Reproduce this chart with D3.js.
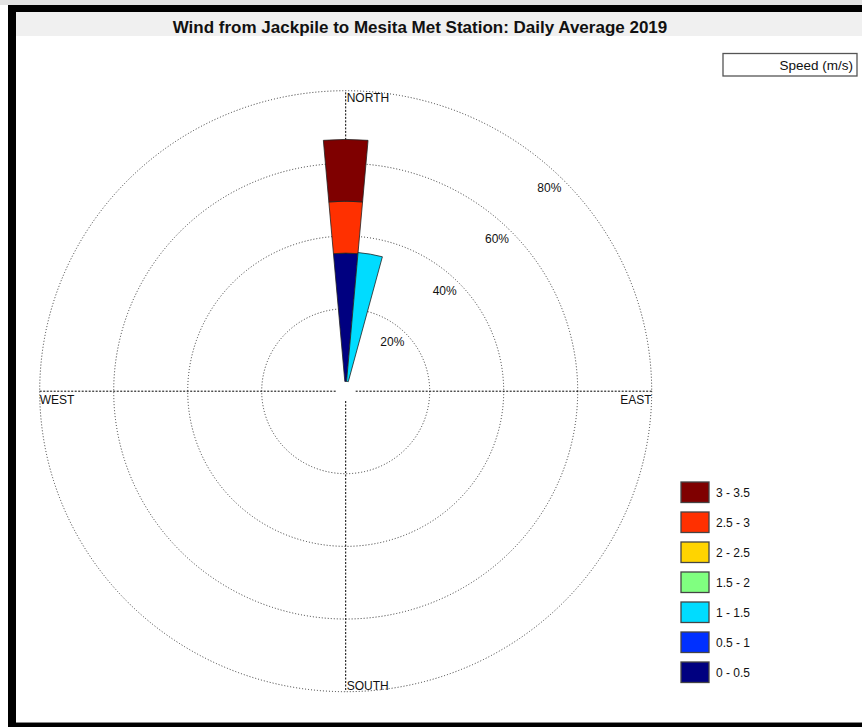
<!DOCTYPE html>
<html>
<head>
<meta charset="utf-8">
<script src="https://cdn.jsdelivr.net/npm/d3@7"></script>
<style>
  html, body { margin: 0; padding: 0; background: #fff; }
  svg { display: block; font-family: "Liberation Sans", Arial, sans-serif; }
</style>
</head>
<body>
<svg id="chart" width="862" height="727"></svg>
<script>
// Wind-rose data: percent of days per 10° direction sector, split by speed class
const sectorDeg = [0, 10];                 // sector centres, degrees clockwise from north
const sectorWidth = 10;
const speedBins = ["0 - 0.5", "0.5 - 1", "1 - 1.5", "1.5 - 2", "2 - 2.5", "2.5 - 3", "3 - 3.5"];
const binColors = ["#000080", "#0030ff", "#00dcff", "#80ff80", "#ffd400", "#ff3000", "#7f0000"];
const pct_0_05  = [35.3, 0];
const pct_05_1  = [0, 0];
const pct_1_15  = [0, 35.6];
const pct_15_2  = [0, 0];
const pct_2_25  = [0, 0];
const pct_25_3  = [14.3, 0];
const pct_3_35  = [17.0, 0];
const ringPct = [20, 40, 60, 80];
const ringLabels = ["20%", "40%", "60%", "80%"];
const compass = ["NORTH", "EAST", "SOUTH", "WEST"];
const title = "Wind from Jackpile to Mesita Met Station: Daily Average 2019";
const legendTitle = "Speed (m/s)";

const binValues = [pct_0_05, pct_05_1, pct_1_15, pct_15_2, pct_2_25, pct_25_3, pct_3_35];

const svg = d3.select("#chart");
const W = 862, H = 727;

// window frame
svg.append("rect").attr("x", 0).attr("y", 0).attr("width", W).attr("height", 5).attr("fill", "#e2e2e2");
svg.append("rect").attr("x", 8).attr("y", 5).attr("width", W - 8).attr("height", 7).attr("fill", "#000");
svg.append("rect").attr("x", 8).attr("y", 5).attr("width", 8).attr("height", H - 5).attr("fill", "#000");
svg.append("rect").attr("x", 8).attr("y", 723).attr("width", W - 8).attr("height", 4).attr("fill", "#000");
svg.append("line").attr("x1", 16).attr("x2", W).attr("y1", 722.5).attr("y2", 722.5).attr("stroke", "#888");
svg.append("rect").attr("x", 16).attr("y", 12).attr("width", W - 16).attr("height", 24).attr("fill", "#f0f0f0");

svg.append("text")
  .attr("x", 420).attr("y", 33)
  .attr("text-anchor", "middle")
  .attr("font-size", 17).attr("font-weight", "bold").attr("fill", "#111")
  .text(title);

// polar area
const cx = 345.7, cy = 391.2, ky = 0.982;
const r = d3.scaleLinear().domain([0, 80]).range([10, 306]);
const toRad = d => d * Math.PI / 180;

const polar = svg.append("g").attr("transform", `translate(${cx},${cy}) scale(1,${ky})`);

// rings
polar.selectAll("circle.ring").data(ringPct).join("circle")
  .attr("class", "ring")
  .attr("r", d => r(d))
  .attr("fill", "none")
  .attr("stroke", "#333")
  .attr("stroke-width", 1)
  .attr("stroke-dasharray", "1,2")
  .attr("vector-effect", "non-scaling-stroke");

// compass axes
const axisAngles = [0, 90, 180, 270];
polar.selectAll("line.axis").data(axisAngles).join("line")
  .attr("class", "axis")
  .attr("x1", d => r(0) * Math.sin(toRad(d)))
  .attr("y1", d => -r(0) * Math.cos(toRad(d)))
  .attr("x2", d => r(80) * Math.sin(toRad(d)))
  .attr("y2", d => -r(80) * Math.cos(toRad(d)))
  .attr("stroke", "#000")
  .attr("stroke-width", 1)
  .attr("stroke-dasharray", "2,1.5")
  .attr("vector-effect", "non-scaling-stroke");

// stacked wedges
const arc = d3.arc();
const wedges = [];
sectorDeg.forEach((deg, i) => {
  let cum = 0;
  binValues.forEach((vals, b) => {
    const v = vals[i];
    if (v > 0) {
      wedges.push({deg, b, lo: cum, hi: cum + v});
      cum += v;
    }
  });
});
polar.selectAll("path.wedge").data(wedges).join("path")
  .attr("class", "wedge")
  .attr("d", d => arc({
    innerRadius: r(d.lo),
    outerRadius: r(d.hi),
    startAngle: toRad(d.deg - sectorWidth / 2),
    endAngle: toRad(d.deg + sectorWidth / 2)
  }))
  .attr("fill", d => binColors[d.b])
  .attr("stroke", "#222")
  .attr("stroke-width", 0.8)
  .attr("stroke-linejoin", "round")
  .attr("vector-effect", "non-scaling-stroke");

// ring labels along the 45° direction
const lab = svg.append("g").attr("font-size", 12).attr("fill", "#111");
lab.selectAll("text.pct").data(ringPct).join("text")
  .attr("class", "pct")
  .attr("text-anchor", "middle")
  .attr("x", d => cx + (r(d) - 18) * Math.SQRT1_2)
  .attr("y", d => cy - (r(d) - 13) * Math.SQRT1_2 * ky + 4)
  .text((d, i) => ringLabels[i]);

// compass labels
const R = r(80);
lab.append("text").attr("x", cx + 1).attr("y", cy - R * ky + 11.5).text(compass[0]);
lab.append("text").attr("x", cx + R).attr("y", cy + 13).attr("text-anchor", "end").text(compass[1]);
lab.append("text").attr("x", cx + 1).attr("y", cy + R * ky - 2).text(compass[2]);
lab.append("text").attr("x", cx - R).attr("y", cy + 13).text(compass[3]);

// legend title box
svg.append("rect").attr("x", 723).attr("y", 53.5).attr("width", 134).attr("height", 22.5)
  .attr("fill", "#fff").attr("stroke", "#555").attr("stroke-width", 1.3);
svg.append("text").attr("x", 853).attr("y", 70).attr("text-anchor", "end")
  .attr("font-size", 13.5).attr("fill", "#111").text(legendTitle);

// legend swatches, fastest class on top
const legendOrder = d3.range(speedBins.length).reverse();
const lg = svg.append("g");
const ly = d3.scaleBand().domain(legendOrder).range([482, 482 + 30 * speedBins.length]);
lg.selectAll("rect").data(legendOrder).join("rect")
  .attr("x", 681).attr("y", d => ly(d)).attr("width", 28).attr("height", 20.5)
  .attr("fill", d => binColors[d]).attr("stroke", "#444").attr("stroke-width", 1.3);
lg.selectAll("text").data(legendOrder).join("text")
  .attr("x", 716).attr("y", d => ly(d) + 14.5)
  .attr("font-size", 12).attr("fill", "#111")
  .text(d => speedBins[d]);
</script>
</body>
</html>
